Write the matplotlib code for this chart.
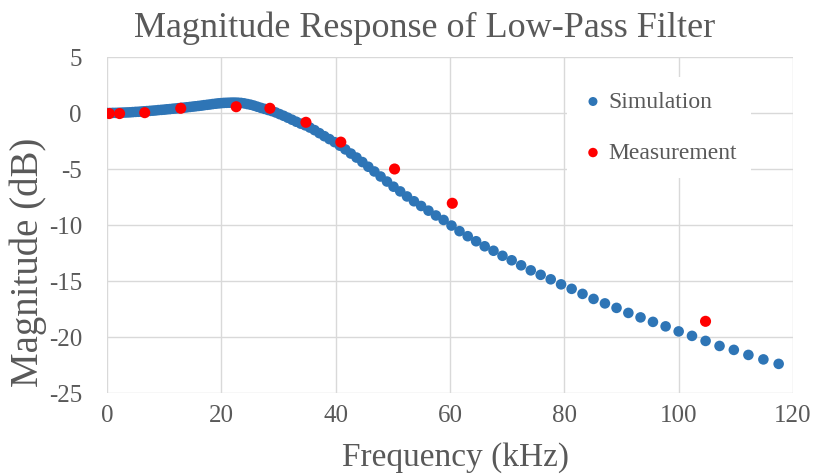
import matplotlib
matplotlib.use("Agg")
import matplotlib.pyplot as plt
from matplotlib.font_manager import FontProperties

plt.rcParams["axes.unicode_minus"] = False
plt.rcParams["font.family"] = ["Liberation Serif", "DejaVu Serif"]

# ---------------- data ----------------
sim_freq_khz = [
    0.0, 0.5, 1.0, 1.5, 2.0, 2.5, 3.0, 3.5, 4.0, 4.5,
    5.0, 5.5, 6.0, 6.5, 7.0, 7.5, 8.0, 8.5, 9.0, 9.5,
    10.0, 10.5, 11.0, 11.5, 12.0, 12.5, 13.0, 13.5, 14.0, 14.5,
    15.0, 15.5, 16.0, 16.5, 17.0, 17.5, 18.0, 18.5, 19.0, 19.5,
    19.95, 20.42, 20.89, 21.38, 21.88, 22.39, 22.91, 23.44, 23.99, 24.55,
    25.12, 25.70, 26.30, 26.92, 27.54, 28.18, 28.84, 29.51, 30.20, 30.90,
    31.62, 32.36, 33.11, 33.88, 34.67, 35.48, 36.31, 37.15, 38.02, 38.90,
    39.81, 40.74, 41.69, 42.66, 43.65, 44.67, 45.71, 46.77, 47.86, 48.98,
    50.12, 51.29, 52.48, 53.70, 54.95, 56.23, 57.54, 58.88, 60.26, 61.66,
    63.10, 64.57, 66.07, 67.61, 69.18, 70.79, 72.44, 74.13, 75.86, 77.62,
    79.43, 81.28, 83.18, 85.11, 87.10, 89.13, 91.20, 93.33, 95.50, 97.72,
    100.00, 102.33, 104.71, 107.15, 109.65, 112.20, 114.82, 117.49,
]
sim_mag_db = [
    0.00, 0.00, 0.01, 0.01, 0.02, 0.03, 0.04, 0.05, 0.06, 0.08,
    0.10, 0.11, 0.13, 0.15, 0.17, 0.19, 0.21, 0.23, 0.26, 0.28,
    0.30, 0.33, 0.35, 0.38, 0.40, 0.43, 0.46, 0.48, 0.51, 0.54,
    0.57, 0.60, 0.63, 0.66, 0.70, 0.73, 0.76, 0.80, 0.83, 0.86,
    0.88, 0.90, 0.91, 0.92, 0.93, 0.93, 0.92, 0.90, 0.86, 0.80,
    0.74, 0.66, 0.56, 0.46, 0.37, 0.27, 0.17, 0.05, -0.10, -0.25,
    -0.42, -0.60, -0.78, -0.95, -1.10, -1.30, -1.53, -1.80, -2.07, -2.33,
    -2.60, -2.92, -3.25, -3.62, -3.98, -4.38, -4.80, -5.22, -5.67, -6.12,
    -6.58, -7.00, -7.45, -7.88, -8.30, -8.72, -9.15, -9.55, -10.05, -10.55,
    -11.00, -11.45, -11.90, -12.30, -12.75, -13.15, -13.60, -14.05, -14.45, -14.85,
    -15.30, -15.70, -16.15, -16.60, -17.00, -17.40, -17.85, -18.25, -18.65, -19.05,
    -19.50, -19.90, -20.35, -20.80, -21.15, -21.60, -22.00, -22.40,
]
meas_freq_khz = [0.4, 2.2, 6.6, 12.9, 22.6, 28.5, 34.8, 40.9, 50.3, 60.4, 104.7]
meas_mag_db = [-0.05, -0.05, 0.03, 0.42, 0.56, 0.42, -0.83, -2.6, -5.0, -8.06, -18.6]

x_ticks = [0, 20, 40, 60, 80, 100, 120]
y_ticks = [-25, -20, -15, -10, -5, 0, 5]

title = "Magnitude Response of Low-Pass Filter"
x_label = "Frequency (kHz)"
y_label = "Magnitude (dB)"
series_names = ["Simulation", "Measurement"]

# ---------------- style ----------------
W, H = 818, 474
text_color = "#595959"
grid_color = "#D9D9D9"
blue = "#2E75B6"
red = "#FF0000"

fig = plt.figure(figsize=(W / 100, H / 100), dpi=100)
ax = fig.add_axes([107 / W, (H - 393) / H, (793 - 107) / W, (393 - 57) / H])

ax.scatter(sim_freq_khz, sim_mag_db, s=58, color=blue, edgecolors="none",
           zorder=3, label=series_names[0])
ax.scatter(meas_freq_khz, meas_mag_db, s=64, color=red, edgecolors="none",
           zorder=4, label=series_names[1])

ax.set_xlim(0, 120)
ax.set_ylim(-25, 5)
ax.set_xticks(x_ticks)
ax.set_yticks(y_ticks)
ax.grid(True, color=grid_color, linewidth=1.0, zorder=0)
ax.set_axisbelow(True)
for sp in ax.spines.values():
    sp.set_visible(False)
ax.tick_params(axis="both", length=0, labelsize=18, colors=text_color)
ax.tick_params(axis="x", pad=9)
ax.tick_params(axis="y", pad=18)

ax.set_xlabel(x_label, fontsize=24, color=text_color)
ax.xaxis.label.set_va("center")
ax.xaxis.set_label_coords((455 - 107) / (793 - 107), -(458 - 393) / (393 - 57))
ax.set_ylabel(y_label, fontsize=28, color=text_color)
ax.yaxis.label.set_va("center")
ax.yaxis.set_label_coords(-(107 - 28) / (793 - 107), (393 - 262) / (393 - 57))

fig.text(425 / W, 1 - 28 / H, title, ha="center", va="center",
         fontsize=26, color=text_color)

leg = ax.legend(loc="upper left", bbox_to_anchor=(567 / W, (H - 77) / H),
                bbox_transform=fig.transFigure, frameon=True, fancybox=False,
                facecolor="white", edgecolor="none", framealpha=1,
                prop=FontProperties(family="Liberation Serif", size=17),
                labelcolor=text_color, handletextpad=0.15, handlelength=1.0,
                borderpad=0.6, labelspacing=1.25, borderaxespad=0,
                scatterpoints=1, markerscale=0.85)
leg.set_zorder(10)

fig.savefig("out.png", dpi=100)
